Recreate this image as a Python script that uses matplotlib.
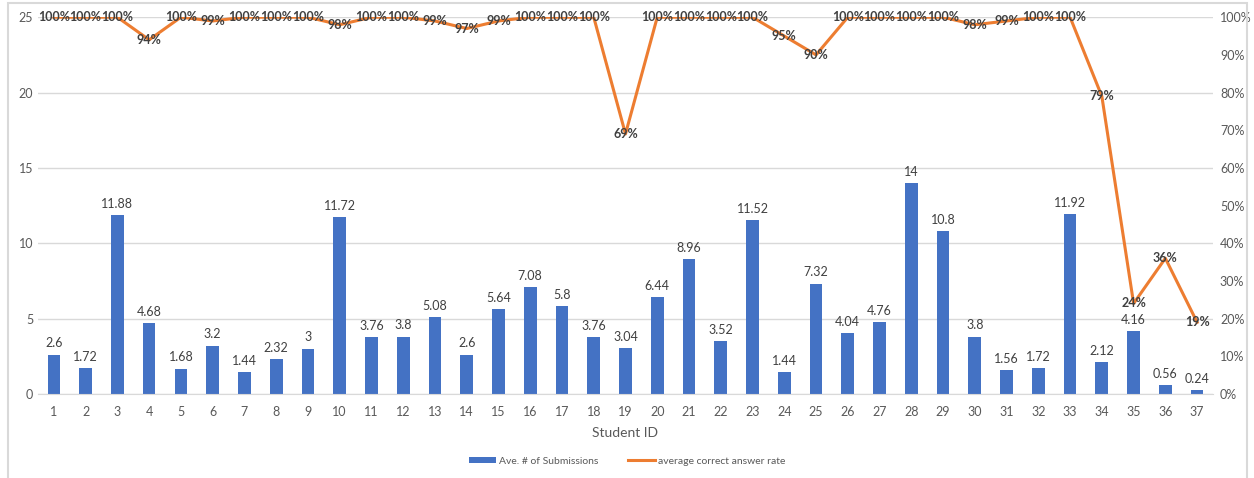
"""
Average number of submissions and average correct answer rate per student.
Bars on the left axis, rate line on the right (percent) axis.
"""

import matplotlib

matplotlib.use("Agg")

import matplotlib.pyplot as plt
from matplotlib.patches import Rectangle
from matplotlib.ticker import FuncFormatter, MultipleLocator

plt.rcParams["font.family"] = ["Lato", "DejaVu Sans"]

STUDENT_IDS = list(range(1, 38))
AVG_SUBMISSIONS = [
    2.6, 1.72, 11.88, 4.68, 1.68, 3.2, 1.44, 2.32, 3, 11.72,
    3.76, 3.8, 5.08, 2.6, 5.64, 7.08, 5.8, 3.76, 3.04, 6.44,
    8.96, 3.52, 11.52, 1.44, 7.32, 4.04, 4.76, 14, 10.8, 3.8,
    1.56, 1.72, 11.92, 2.12, 4.16, 0.56, 0.24,
]
CORRECT_RATE = [
    100, 100, 100, 94, 100, 99, 100, 100, 100, 98,
    100, 100, 99, 97, 99, 100, 100, 100, 69, 100,
    100, 100, 100, 95, 90, 100, 100, 100, 100, 98,
    99, 100, 100, 79, 24, 36, 19,
]

BAR_COLOR = "#4472C4"
LINE_COLOR = "#ED7D31"
GRID_COLOR = "#D9D9D9"
TEXT_COLOR = "#595959"


def fmt_num(v):
    return f"{v:g}"


fig = plt.figure(figsize=(12.54, 4.78), dpi=100)
ax = fig.add_axes([0.0303, 0.176, 0.937, 0.788])
ax2 = ax.twinx()

x = STUDENT_IDS
bars = ax.bar(x, AVG_SUBMISSIONS, width=0.4, color=BAR_COLOR,
              label="Ave. # of Submissions", zorder=2)
for xi, v in zip(x, AVG_SUBMISSIONS):
    ax.text(xi, v + 0.35, fmt_num(v), ha="center", va="bottom",
            fontsize=9, color="#404040", zorder=3)

ax.set_xlim(0.5, 37.5)
ax.set_ylim(0, 25)
ax.yaxis.set_major_locator(MultipleLocator(5))
ax.set_xticks(x)
ax.grid(axis="y", color=GRID_COLOR, linewidth=1, zorder=0)
ax.set_axisbelow(True)
for side in ("top", "right", "left"):
    ax.spines[side].set_visible(False)
ax.spines["bottom"].set_color(GRID_COLOR)
ax.tick_params(axis="both", length=0, labelsize=9, colors=TEXT_COLOR)
ax.tick_params(axis="x", pad=9)
ax.set_xlabel("Student ID", fontsize=10, color=TEXT_COLOR, labelpad=6)

line, = ax2.plot(x, CORRECT_RATE, color=LINE_COLOR, linewidth=2.2,
                 label="average correct answer rate", zorder=4)
for xi, v in zip(x, CORRECT_RATE):
    ax2.text(xi, v, f"{v}%", ha="center", va="center", fontsize=9,
             fontweight="bold", color="#404040", zorder=5)

ax2.set_ylim(0, 100)
ax2.yaxis.set_major_locator(MultipleLocator(10))
ax2.yaxis.set_major_formatter(FuncFormatter(lambda v, _: f"{v:.0f}%"))
for side in ("top", "right", "left", "bottom"):
    ax2.spines[side].set_visible(False)
ax2.tick_params(axis="y", length=0, labelsize=9, colors=TEXT_COLOR, pad=5)

fig.legend(handles=[bars, line], loc="center", bbox_to_anchor=(0.5, 0.035),
           ncol=2, frameon=False, fontsize=7.5, labelcolor=TEXT_COLOR,
           handlelength=2.6, handleheight=0.6, columnspacing=2.8,
           handletextpad=0.3)

# light frame around the chart area
fig.patches.append(Rectangle((8 / 1254, -0.01), 1239 / 1254, 1 - 3 / 478 + 0.01,
                             transform=fig.transFigure, fill=False,
                             edgecolor=GRID_COLOR, linewidth=1.5))

fig.savefig("out.png", dpi=100)
